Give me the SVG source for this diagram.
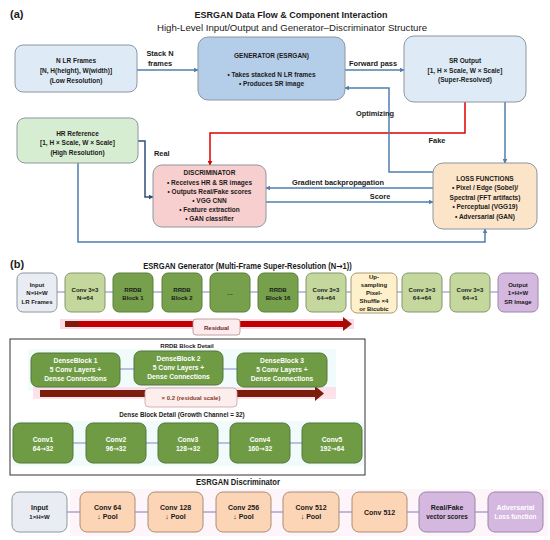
<svg xmlns="http://www.w3.org/2000/svg" width="550" height="540" viewBox="0 0 550 540">
<defs>
<style>
text{font-family:"Liberation Sans",Arial,sans-serif;fill:#1a1a1a;text-anchor:middle;font-weight:bold}
.ar{font-family:"DejaVu Sans",sans-serif}
.t6{font-size:6.5px}
.lb{font-size:7.4px}
.bs{font-size:6px}
.wt{fill:#ffffff;font-size:6.7px}
.dt{font-size:7px}
.box{stroke:#8d96a0;stroke-width:1}
.blue{fill:#deebf7}
.gen{fill:#b4cde9}
.hr{fill:#d7edd2}
.disc{fill:#f8cfcf}
.loss{fill:#fce4c9}
.inp{fill:#e9edf3}
.lg{fill:#c4d79d;stroke:#86956c}
.dg{fill:#76a04b;stroke:#5d7f3a}
.dense{fill:#6f9b44;stroke:#55773a}
.up{fill:#fdf0ca;stroke:#a89a70}
.pur{fill:#d5b8e0;stroke:#9a86a8}
.pch{fill:#fbd5b6;stroke:#a88e74}
.cn{fill:none;stroke:#4f7fae;stroke-width:1.5}
.gl{stroke:#7d86c8;stroke-width:1}
</style>
<marker id="ab" viewBox="0 0 8 8" refX="7" refY="4" markerWidth="5" markerHeight="5" orient="auto" markerUnits="userSpaceOnUse"><path d="M0,0 L8,4 L0,8 z" fill="#4f7fae"/></marker>
<marker id="ar" viewBox="0 0 8 8" refX="7" refY="4" markerWidth="5" markerHeight="5" orient="auto" markerUnits="userSpaceOnUse"><path d="M0,0 L8,4 L0,8 z" fill="#e00000"/></marker>
<marker id="an" viewBox="0 0 8 8" refX="7" refY="4" markerWidth="5" markerHeight="5" orient="auto" markerUnits="userSpaceOnUse"><path d="M0,0 L8,4 L0,8 z" fill="#2f4f75"/></marker>
</defs>
<rect width="550" height="540" fill="#ffffff"/>

<!-- Part (a) -->
<text x="10" y="18" style="font-size:11px;text-anchor:start">(a)</text>
<text x="291" y="18" style="font-size:9.5px" textLength="193" lengthAdjust="spacingAndGlyphs">ESRGAN Data Flow &amp; Component Interaction</text>
<text x="292" y="31" style="font-size:9.5px;font-weight:normal" textLength="270" lengthAdjust="spacingAndGlyphs">High-Level Input/Output and Generator–Discriminator Structure</text>

<g id="connectors-a">
<line class="cn" x1="137" y1="70" x2="198" y2="70" marker-end="url(#ab)"/>
<line class="cn" x1="345" y1="70" x2="404" y2="70" marker-end="url(#ab)"/>
<path d="M138,141 H145 V197 H153" fill="none" stroke="#2f4f75" stroke-width="1.5" marker-end="url(#an)"/>
<path d="M465,102 V133 H210 V165" fill="none" stroke="#e00000" stroke-width="1.5" marker-end="url(#ar)"/>
<path class="cn" d="M505,102 V163" marker-end="url(#ab)"/>
<path class="cn" d="M433,172 H389 V88 H345" marker-end="url(#ab)"/>
<path class="cn" d="M433,188 H266" marker-end="url(#ab)"/>
<path class="cn" d="M266,202 H433" marker-end="url(#ab)"/>
<path class="cn" d="M78,163 V242 H485 V229" marker-end="url(#ab)"/>
<text class="lb" x="160" y="56">Stack N</text>
<text class="lb" x="160" y="66">frames</text>
<text class="lb" x="373" y="66">Forward pass</text>
<text class="lb" x="154" y="156" style="text-anchor:start">Real</text>
<text class="lb" x="375" y="116">Optimizing</text>
<text class="lb" x="437" y="143">Fake</text>
<text class="lb" x="338" y="185">Gradient backpropagation</text>
<text class="lb" x="380" y="199">Score</text>
</g>

<g id="lr-frames">
<rect class="box blue" x="15" y="45" width="122" height="47" rx="8"/>
<text class="t6" x="76" y="62.5">N LR Frames</text>
<text class="t6" x="76" y="72.5">[N, H(height), W(width)]</text>
<text class="t6" x="76" y="82.5">(Low Resolution)</text>
</g>
<g id="generator">
<rect class="box gen" x="198" y="37" width="147" height="63" rx="10"/>
<text class="t6" x="271.5" y="57.5">GENERATOR (ESRGAN)</text>
<text class="t6" x="271.5" y="76.5">• Takes stacked N LR frames</text>
<text class="t6" x="271.5" y="85.5">• Produces SR image</text>
</g>
<g id="sr-output">
<rect class="box blue" x="404" y="36" width="122" height="66" rx="10"/>
<text class="t6" x="465" y="62.5">SR Output</text>
<text class="t6" x="465" y="72.5">[1, H × Scale, W × Scale]</text>
<text class="t6" x="465" y="82">(Super-Resolved)</text>
</g>
<g id="hr-reference">
<rect class="box hr" x="17" y="118" width="121" height="45" rx="8"/>
<text class="t6" x="77.5" y="135.5">HR Reference</text>
<text class="t6" x="77.5" y="144.5">[1, H × Scale, W × Scale]</text>
<text class="t6" x="77.5" y="154.5">(High Resolution)</text>
</g>
<g id="discriminator">
<rect class="box disc" x="153" y="165" width="113" height="62" rx="9"/>
<text class="t6" x="209.5" y="175">DISCRIMINATOR</text>
<text class="t6" x="209.5" y="184.5">• Receives HR &amp; SR images</text>
<text class="t6" x="209.5" y="193.5">• Outputs Real/Fake scores</text>
<text class="t6" x="209.5" y="202.5">• VGG CNN</text>
<text class="t6" x="209.5" y="211.5">• Feature extraction</text>
<text class="t6" x="209.5" y="221">• GAN classifier</text>
</g>
<g id="loss-functions">
<rect class="box loss" x="433" y="163" width="104" height="66" rx="10"/>
<text class="t6" x="485" y="180.5">LOSS FUNCTIONS</text>
<text class="t6" x="485" y="189.5">• Pixel / Edge (Sobel)/</text>
<text class="t6" x="485" y="199.5">Spectral (FFT artifacts)</text>
<text class="t6" x="485" y="209">• Perceptual (VGG19)</text>
<text class="t6" x="485" y="218.5">• Adversarial (GAN)</text>
</g>

<!-- Part (b) -->
<text x="10" y="268" style="font-size:11px;text-anchor:start">(b)</text>
<text transform="translate(247.5,269) scale(0.84,1)" x="0" y="0" style="font-size:9px">ESRGAN Generator (Multi-Frame Super-Resolution (N<tspan class="ar">→</tspan>1))</text>

<g id="connectors-gen">
<line class="gl" x1="57" y1="292" x2="498" y2="292"/>
<rect x="60" y="319" width="294" height="10" fill="#fbcfe3" opacity="0.8"/>
<rect x="65" y="321" width="280" height="6" fill="#c00000"/>
<rect x="65" y="321" width="14" height="6" fill="#7e1a0a"/>
<polygon points="343,317 352,324 343,331" fill="#9e0f08"/>
</g>

<g id="g-input"><rect class="box inp" x="17" y="273" width="40" height="39" rx="6"/>
<text class="bs" x="37" y="286.5">Input</text><text class="bs" x="37" y="294.5">N×H×W</text><text class="bs" x="37" y="303.5">LR Frames</text></g>
<g id="g-conv1"><rect class="lg" x="65" y="273" width="40" height="39" rx="6"/>
<text class="bs" x="85" y="291.5">Conv 3×3</text><text class="bs" x="85" y="299.5">N<tspan class="ar">→</tspan>64</text></g>
<g id="g-rrdb1"><rect class="dg" x="113" y="273" width="40" height="39" rx="6"/>
<text class="bs" x="133" y="291.5">RRDB</text><text class="bs" x="133" y="299.5">Block 1</text></g>
<g id="g-rrdb2"><rect class="dg" x="162" y="273" width="40" height="39" rx="6"/>
<text class="bs" x="182" y="291.5">RRDB</text><text class="bs" x="182" y="299.5">Block 2</text></g>
<g id="g-dots"><rect class="dg" x="210" y="273" width="40" height="39" rx="6"/>
<text class="bs" x="230" y="295">…</text></g>
<g id="g-rrdb16"><rect class="dg" x="258" y="273" width="40" height="39" rx="6"/>
<text class="bs" x="278" y="291.5">RRDB</text><text class="bs" x="278" y="299.5">Block 16</text></g>
<g id="g-conv2"><rect class="lg" x="306" y="273" width="40" height="39" rx="6"/>
<text class="bs" x="326" y="291.5">Conv 3×3</text><text class="bs" x="326" y="299.5">64<tspan class="ar">→</tspan>64</text></g>
<g id="g-up"><rect class="up" x="351" y="273" width="46" height="40" rx="6"/>
<text class="bs" x="374" y="278.5">Up-</text><text class="bs" x="374" y="286.8">sampling</text><text class="bs" x="374" y="295.1">Pixel-</text><text class="bs" x="374" y="303.4">Shuffle ×4</text><text class="bs" x="374" y="311.4">or Bicubic</text></g>
<g id="g-conv3"><rect class="lg" x="402" y="273" width="40" height="39" rx="6"/>
<text class="bs" x="422" y="291.5">Conv 3×3</text><text class="bs" x="422" y="299.5">64<tspan class="ar">→</tspan>64</text></g>
<g id="g-conv4"><rect class="lg" x="450" y="273" width="40" height="39" rx="6"/>
<text class="bs" x="470" y="291.5">Conv 3×3</text><text class="bs" x="470" y="299.5">64<tspan class="ar">→</tspan>1</text></g>
<g id="g-output"><rect class="pur" x="498" y="273" width="40" height="39" rx="6"/>
<text class="bs" x="518" y="286.5">Output</text><text class="bs" x="518" y="294.5">1×H×W</text><text class="bs" x="518" y="303.5">SR Image</text></g>
<g id="g-residual-label"><rect x="193" y="319" width="47" height="16" rx="3" fill="#fdecee" stroke="#b58a8a" stroke-width="0.8"/>
<text class="bs" x="216.5" y="329.5" style="fill:#6b2a2a">Residual</text></g>

<!-- RRDB detail -->
<g id="rrdb-frame">
<rect x="10" y="339" width="355" height="136" fill="#ffffff" stroke="#333333" stroke-width="1"/>
<rect x="28" y="349" width="308" height="42" fill="#f1fbfc"/>
<rect x="12" y="421" width="352" height="45" fill="#f1fbfc"/>
<text class="bs" x="187" y="347.5">RRDB Block Detail</text>
<text x="182" y="416.5" style="font-size:6.3px">Dense Block Detail (Growth Channel = 32)</text>
</g>
<g id="connectors-rrdb">
<line class="gl" x1="120" y1="369" x2="237" y2="369"/>
<rect x="33" y="387" width="303" height="12" fill="#fcd9e6" opacity="0.8"/>
<rect x="40" y="390" width="276" height="7" fill="#7a1d0c"/>
<polygon points="315,386 324,393.5 315,401" fill="#7a1d0c"/>
<line class="gl" x1="73" y1="443" x2="302" y2="443"/>
</g>
<g id="dense1"><rect class="dense" x="31" y="353" width="89" height="34" rx="7"/>
<text class="wt" x="75.5" y="362.5">DenseBlock 1</text><text class="wt" x="75.5" y="371.5">5 Conv Layers +</text><text class="wt" x="75.5" y="381">Dense Connections</text></g>
<g id="dense2"><rect class="dense" x="134" y="351" width="89" height="34" rx="7"/>
<text class="wt" x="178.5" y="360.5">DenseBlock 2</text><text class="wt" x="178.5" y="369.5">5 Conv Layers +</text><text class="wt" x="178.5" y="379">Dense Connections</text></g>
<g id="dense3"><rect class="dense" x="237" y="353" width="90" height="34" rx="7"/>
<text class="wt" x="282" y="362.5">DenseBlock 3</text><text class="wt" x="282" y="371.5">5 Conv Layers +</text><text class="wt" x="282" y="381">Dense Connections</text></g>
<g id="scale-label"><rect x="145" y="388" width="92" height="19" rx="4" fill="#fdeeee" stroke="#c9a2a2" stroke-width="0.8"/>
<text class="bs" x="191" y="400" style="fill:#8b3a2a">× 0.2 (residual scale)</text></g>
<g id="conv-1"><rect class="dense" x="13" y="423" width="60" height="40" rx="7"/>
<text class="wt" x="43" y="441.5">Conv1</text><text class="wt" x="43" y="450.5">64<tspan class="ar">→</tspan>32</text></g>
<g id="conv-2"><rect class="dense" x="86" y="423" width="60" height="40" rx="7"/>
<text class="wt" x="116" y="441.5">Conv2</text><text class="wt" x="116" y="450.5">96<tspan class="ar">→</tspan>32</text></g>
<g id="conv-3"><rect class="dense" x="158" y="423" width="60" height="40" rx="7"/>
<text class="wt" x="188" y="441.5">Conv3</text><text class="wt" x="188" y="450.5">128<tspan class="ar">→</tspan>32</text></g>
<g id="conv-4"><rect class="dense" x="230" y="423" width="60" height="40" rx="7"/>
<text class="wt" x="260" y="441.5">Conv4</text><text class="wt" x="260" y="450.5">160<tspan class="ar">→</tspan>32</text></g>
<g id="conv-5"><rect class="dense" x="302" y="423" width="60" height="40" rx="7"/>
<text class="wt" x="332" y="441.5">Conv5</text><text class="wt" x="332" y="450.5">192<tspan class="ar">→</tspan>64</text></g>

<!-- Discriminator -->
<text x="238" y="485" style="font-size:8.5px" textLength="84" lengthAdjust="spacingAndGlyphs">ESRGAN Discriminator</text>
<g id="connectors-disc">
<rect x="70" y="489" width="478" height="47" fill="#fdf5f9"/>
<line x1="67" y1="512" x2="488" y2="512" stroke="#8a72c2" stroke-width="1"/>
</g>
<g id="d-input"><rect class="box inp" x="12" y="492" width="55" height="40" rx="7"/>
<text class="dt" x="39.5" y="509.5">Input</text><text class="dt" x="39.5" y="518.5" style="font-size:6px">1×H×W</text></g>
<g id="d-conv64"><rect class="pch" x="80" y="492" width="55" height="40" rx="7"/>
<text class="dt" x="107.5" y="509.5">Conv 64</text><text class="dt" x="107.5" y="518.5">↓ Pool</text></g>
<g id="d-conv128"><rect class="pch" x="148" y="492" width="55" height="40" rx="7"/>
<text class="dt" x="175.5" y="509.5">Conv 128</text><text class="dt" x="175.5" y="518.5">↓ Pool</text></g>
<g id="d-conv256"><rect class="pch" x="216" y="492" width="55" height="40" rx="7"/>
<text class="dt" x="243.5" y="509.5">Conv 256</text><text class="dt" x="243.5" y="518.5">↓ Pool</text></g>
<g id="d-conv512p"><rect class="pch" x="283" y="492" width="56" height="40" rx="7"/>
<text class="dt" x="311" y="509.5">Conv 512</text><text class="dt" x="311" y="518.5">↓ Pool</text></g>
<g id="d-conv512"><rect class="pch" x="352" y="492" width="55" height="40" rx="7"/>
<text class="dt" x="379.5" y="514.5">Conv 512</text></g>
<g id="d-scores"><rect class="pur" x="419" y="492" width="56" height="40" rx="7"/>
<text class="dt" x="447" y="509.5">Real/Fake</text><text class="dt" x="447" y="518.5" style="font-size:6.4px">vector scores</text></g>
<g id="d-adv"><rect class="pur" x="488" y="492" width="55" height="40" rx="7"/>
<text class="dt" x="515.5" y="509.5" style="fill:#ffffff">Adversarial</text><text class="dt" x="515.5" y="518.5" style="fill:#ffffff;font-size:6.4px">Loss function</text></g>
</svg>
